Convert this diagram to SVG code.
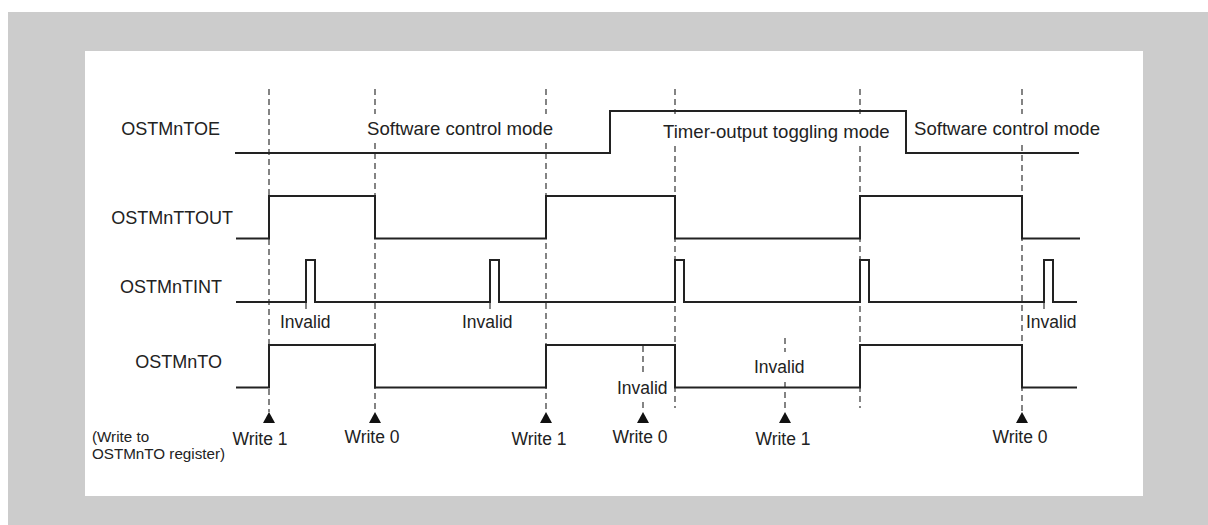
<svg xmlns="http://www.w3.org/2000/svg" width="1208" height="525" viewBox="0 0 1208 525">
<style>
.sig{fill:none;stroke:#222;stroke-width:2;stroke-linejoin:miter}
.dash{fill:none;stroke:#333;stroke-width:1.2;stroke-dasharray:6,4}
.lbl{font-family:"Liberation Sans",Arial,sans-serif;font-size:18px;fill:#222}
.mode{font-family:"Liberation Sans",Arial,sans-serif;font-size:18.6px;fill:#222}
.sm{font-family:"Liberation Sans",Arial,sans-serif;font-size:17.5px;fill:#222}
.note{font-family:"Liberation Sans",Arial,sans-serif;font-size:15.2px;fill:#222}
.arr{fill:#111}
</style>
<defs>
<path id="tri" d="M0,0 L6,11 L-6,11 Z"/>
</defs>
<rect x="0" y="0" width="1208" height="525" fill="#ffffff"/>
<rect x="8" y="12" width="1200" height="513" fill="#cccccc"/>
<rect x="85" y="51" width="1058" height="445" fill="#ffffff"/>

<g id="connectors">
<g id="guides">
<line class="dash" x1="269" y1="89" x2="269" y2="412"/>
<line class="dash" x1="375" y1="89" x2="375" y2="114"/>
<line class="dash" x1="375" y1="143" x2="375" y2="412"/>
<line class="dash" x1="546" y1="89" x2="546" y2="114"/>
<line class="dash" x1="546" y1="143" x2="546" y2="412"/>
<line class="dash" x1="675" y1="89" x2="675" y2="114"/>
<line class="dash" x1="675" y1="146" x2="675" y2="408"/>
<line class="dash" x1="860" y1="89" x2="860" y2="114"/>
<line class="dash" x1="860" y1="146" x2="860" y2="408"/>
<line class="dash" x1="1022" y1="89" x2="1022" y2="114"/>
<line class="dash" x1="1022" y1="145" x2="1022" y2="412"/>
<line class="dash" x1="306" y1="303" x2="306" y2="313"/>
<line class="dash" x1="490" y1="303" x2="490" y2="313"/>
<line class="dash" x1="1044" y1="303" x2="1044" y2="313"/>
<line class="dash" x1="643" y1="346" x2="643" y2="373"/>
<line class="dash" x1="643" y1="402" x2="643" y2="412"/>
<line class="dash" x1="785" y1="338" x2="785" y2="352"/>
<line class="dash" x1="785" y1="382" x2="785" y2="412"/>
</g>
<g id="arrows">
<use href="#tri" class="arr" x="269" y="412"/>
<use href="#tri" class="arr" x="375" y="412"/>
<use href="#tri" class="arr" x="546" y="412"/>
<use href="#tri" class="arr" x="643" y="412"/>
<use href="#tri" class="arr" x="785" y="412"/>
<use href="#tri" class="arr" x="1022" y="412"/>
</g>
</g>

<g id="OSTMnTOE">
<text class="lbl" x="220" y="134.5" text-anchor="end">OSTMnTOE</text>
<polyline class="sig" points="235,153 610,153 610,111 906,111 906,153 1079,153"/>
<text class="mode" x="367" y="135">Software control mode</text>
<text class="mode" x="663" y="138">Timer-output toggling mode</text>
<text class="mode" x="914" y="135">Software control mode</text>
</g>

<g id="OSTMnTTOUT">
<text class="lbl" x="233" y="224" text-anchor="end">OSTMnTTOUT</text>
<polyline class="sig" points="236,238.5 269,238.5 269,196 375,196 375,238.5 546,238.5 546,196 675,196 675,238.5 860,238.5 860,196 1022,196 1022,238.5 1080,238.5"/>
</g>

<g id="OSTMnTINT">
<text class="lbl" x="222" y="293" text-anchor="end">OSTMnTINT</text>
<polyline class="sig" points="236,302 306,302 306,260 315,260 315,302 490,302 490,260 499,260 499,302 675,302 675,260 684,260 684,302 860,302 860,260 869,260 869,302 1044,302 1044,260 1053,260 1053,302 1077,302"/>
<text class="sm" x="280" y="328">Invalid</text>
<text class="sm" x="462" y="328">Invalid</text>
<text class="sm" x="1026" y="328">Invalid</text>
</g>

<g id="OSTMnTO">
<text class="lbl" x="222" y="367.5" text-anchor="end">OSTMnTO</text>
<polyline class="sig" points="236,387.5 269,387.5 269,345 375,345 375,387.5 546,387.5 546,345 675,345 675,387.5 860,387.5 860,345 1022,345 1022,387.5 1077,387.5"/>
<text class="sm" x="617" y="394">Invalid</text>
<text class="sm" x="754" y="373">Invalid</text>
</g>

<g id="writes">
<text class="note" x="92" y="442">(Write to</text>
<text class="note" x="92" y="458.5">OSTMnTO register)</text>
<text class="sm" x="260" y="444.5" text-anchor="middle">Write 1</text>
<text class="sm" x="372" y="442.5" text-anchor="middle">Write 0</text>
<text class="sm" x="539" y="444.5" text-anchor="middle">Write 1</text>
<text class="sm" x="640" y="442.5" text-anchor="middle">Write 0</text>
<text class="sm" x="783" y="444.5" text-anchor="middle">Write 1</text>
<text class="sm" x="1020" y="442.5" text-anchor="middle">Write 0</text>
</g>
</svg>
